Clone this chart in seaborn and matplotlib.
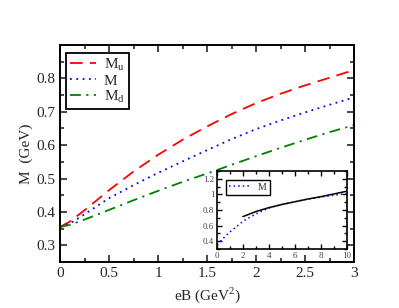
import numpy as np
import pandas as pd
import matplotlib
matplotlib.use("Agg")
import matplotlib.pyplot as plt
from matplotlib.ticker import MultipleLocator, FuncFormatter
import seaborn as sns

# values
eB = [0, 0.1, 0.25, 0.5, 0.75, 1.0, 1.25, 1.5, 1.75, 2.0, 2.25, 2.5, 2.75, 3.0]
M_u = [0.355, 0.371, 0.405, 0.465, 0.521, 0.571, 0.616, 0.656, 0.693, 0.726, 0.754, 0.779, 0.802, 0.825]
M_avg = [0.355, 0.365, 0.393, 0.441, 0.48, 0.517, 0.551, 0.585, 0.618, 0.648, 0.674, 0.698, 0.721, 0.743]
M_d = [0.355, 0.361, 0.377, 0.406, 0.435, 0.463, 0.49, 0.515, 0.541, 0.567, 0.592, 0.616, 0.639, 0.66]

# inset: wider range
eB_inset = [0, 0.5, 1, 1.5, 2, 3, 4, 5, 6, 7, 8, 9, 10]
M_inset = [0.355, 0.44, 0.52, 0.585, 0.655, 0.75, 0.825, 0.87, 0.905, 0.94, 0.965, 0.99, 1.01]
eB_fit = [2, 3, 4, 5, 6, 7, 8, 9, 10]
M_fit = [0.715, 0.78, 0.83, 0.87, 0.905, 0.94, 0.97, 1.005, 1.04]

sns.set_style("ticks")
plt.rcParams["font.family"] = ["Liberation Serif", "DejaVu Serif"]
plt.rcParams["mathtext.fontset"] = "custom"
plt.rcParams["mathtext.rm"] = "Liberation Serif"

df = pd.DataFrame({"eB": eB, "Mu": M_u, "M": M_avg, "Md": M_d})

fig = plt.figure(figsize=(3.99, 3.08), dpi=100)
ax = fig.add_axes([0.1504, 0.1494, 0.737, 0.7045])

sns.lineplot(data=df, x="eB", y="Mu", ax=ax, color="red", lw=1.3,
             linestyle=(0, (7, 4)), label=r"M$_\mathregular{u}$")
sns.lineplot(data=df, x="eB", y="M", ax=ax, color="blue", lw=1.3,
             linestyle=(0, (1, 2.5)), label="M")
sns.lineplot(data=df, x="eB", y="Md", ax=ax, color="green", lw=1.3,
             linestyle=(0, (6, 3, 1.2, 3)), label=r"M$_\mathregular{d}$")

ax.set_xlim(0, 3)
ax.set_ylim(0.25, 0.9)
ax.xaxis.set_major_locator(MultipleLocator(0.5))
ax.xaxis.set_minor_locator(MultipleLocator(0.25))
ax.yaxis.set_major_locator(MultipleLocator(0.1))
ax.yaxis.set_minor_locator(MultipleLocator(0.05))
fmt = FuncFormatter(lambda v, p: "%g" % round(v, 3))
ax.xaxis.set_major_formatter(fmt)
ax.yaxis.set_major_formatter(fmt)
ax.set_yticks([0.3, 0.4, 0.5, 0.6, 0.7, 0.8])
ax.tick_params(which="both", direction="in", top=True, right=True, width=1.2, labelsize=11)
ax.tick_params(which="major", length=5)
ax.tick_params(which="minor", length=3)
for s in ax.spines.values():
    s.set_linewidth(1.4)
    s.set_color("black")
ax.set_xlabel(r"eB (GeV$^\mathregular{2}$)", fontsize=11)
ax.set_ylabel("M  (GeV)", fontsize=11, labelpad=2)

leg = ax.legend(loc="upper left", fontsize=11, handlelength=1.7, handletextpad=0.5,
                borderpad=0.25, labelspacing=0.05, fancybox=False, framealpha=1,
                borderaxespad=0, bbox_to_anchor=(0.022, 0.965))
leg.get_frame().set_edgecolor("black")
leg.get_frame().set_linewidth(1.3)

# inset
axi = fig.add_axes([0.5439, 0.1916, 0.3246, 0.2532])
sns.lineplot(x=eB_inset, y=M_inset, ax=axi, color="blue", lw=1.1,
             linestyle=(0, (1, 2)), label="M")
sns.lineplot(x=eB_fit, y=M_fit, ax=axi, color="black", lw=1.1)
axi.set_xlim(0, 10)
axi.set_ylim(0.3, 1.3)
axi.xaxis.set_major_locator(MultipleLocator(2))
axi.xaxis.set_minor_locator(MultipleLocator(1))
axi.yaxis.set_major_locator(MultipleLocator(0.2))
axi.yaxis.set_minor_locator(MultipleLocator(0.1))
axi.set_yticks([0.4, 0.6, 0.8, 1.0, 1.2])
axi.xaxis.set_major_formatter(fmt)
axi.yaxis.set_major_formatter(fmt)
axi.tick_params(which="both", direction="in", top=True, right=True, width=1.0,
                labelsize=6.5, colors="black", labelcolor="#444444", pad=2)
axi.tick_params(which="major", length=3.5)
axi.tick_params(which="minor", length=2)
axi.set_xlabel("")
axi.set_ylabel("")
for s in axi.spines.values():
    s.set_linewidth(1.2)
    s.set_color("black")
legi = axi.legend(loc="upper left", fontsize=7, handlelength=2.2, borderpad=0.3,
                  fancybox=False, framealpha=1, bbox_to_anchor=(0.03, 0.95))
legi.get_frame().set_edgecolor("black")
legi.get_frame().set_linewidth(1.0)

fig.savefig("out.png", dpi=100)
